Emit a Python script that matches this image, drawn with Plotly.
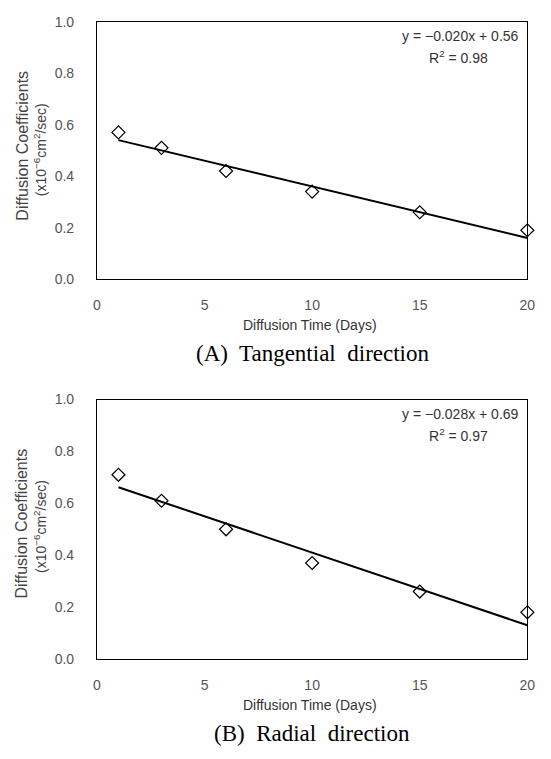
import plotly.graph_objects as go

# Data
days = [1, 3, 6, 10, 15, 20]
tangential = [0.57, 0.51, 0.42, 0.34, 0.26, 0.19]
radial = [0.71, 0.61, 0.50, 0.37, 0.26, 0.18]
tan_slope, tan_intercept, tan_r2 = -0.020, 0.56, 0.98
rad_slope, rad_intercept, rad_r2 = -0.028, 0.69, 0.97
fit_x = [1, 20]
x_ticks = [0, 5, 10, 15, 20]
y_ticks = [0.0, 0.2, 0.4, 0.6, 0.8, 1.0]

W, H = 551, 759
fig = go.Figure()

def add_panel(vals, slope, intercept, xa, ya):
    fig.add_trace(go.Scatter(
        x=fit_x, y=[slope * x + intercept for x in fit_x], mode="lines",
        line=dict(color="black", width=2), xaxis=xa, yaxis=ya,
        showlegend=False, hoverinfo="skip"))
    fig.add_trace(go.Scatter(
        x=days, y=vals, mode="markers",
        marker=dict(symbol="diamond-open", size=10, color="black",
                    line=dict(width=1.2, color="black")),
        xaxis=xa, yaxis=ya, showlegend=False, cliponaxis=False))

add_panel(tangential, tan_slope, tan_intercept, "x", "y")
add_panel(radial, rad_slope, rad_intercept, "x2", "y2")

xdom = [95 / W, 535 / W]
y1dom = [(H - 277) / H, (H - 14) / H]
y2dom = [(H - 665) / H, (H - 400) / H]

sans = "Liberation Sans, Arial, sans-serif"
serif = "Liberation Serif, Times New Roman, serif"
tickfont = dict(family=sans, size=14, color="#555")
axis_common = dict(showline=True, mirror=True, linecolor="black", linewidth=1,
                   showgrid=False, zeroline=False, ticks="", tickfont=tickfont)

fig.update_layout(
    width=W, height=H, margin=dict(l=0, r=0, t=0, b=0),
    plot_bgcolor="white", paper_bgcolor="white",
    xaxis=dict(domain=xdom, anchor="y", range=[0, 20], tickvals=x_ticks,
               ticklabelstandoff=13, **axis_common),
    yaxis=dict(domain=y1dom, anchor="x", range=[0, 1], tickvals=y_ticks,
               tickformat=".1f", ticklabelstandoff=19, **axis_common),
    xaxis2=dict(domain=xdom, anchor="y2", range=[0, 20], tickvals=x_ticks,
                ticklabelstandoff=13, **axis_common),
    yaxis2=dict(domain=y2dom, anchor="x2", range=[0, 1], tickvals=y_ticks,
                tickformat=".1f", ticklabelstandoff=19, **axis_common),
)

anns = []

def panel_text(ytop, ybot, t1y, t2y, eq, r2, caption):
    anns.append(dict(text="Diffusion Coefficients", x=18 / W, y=1 - t1y / H,
                     xref="paper", yref="paper", textangle=-90, showarrow=False,
                     font=dict(family=sans, size=16, color="#444"),
                     xanchor="center", yanchor="middle"))
    anns.append(dict(text="(x10<sup>−6</sup>cm<sup>2</sup>/sec)", x=37 / W, y=1 - t2y / H,
                     xref="paper", yref="paper", textangle=-90, showarrow=False,
                     font=dict(family=sans, size=14, color="#444"),
                     xanchor="center", yanchor="middle"))
    anns.append(dict(text=eq, x=529 / W, y=1 - (ytop + 15) / H, xref="paper", yref="paper",
                     showarrow=False, xanchor="right", yanchor="middle",
                     font=dict(family=sans, size=14, color="#333")))
    anns.append(dict(text=r2, x=465 / W, y=1 - (ytop + 36) / H, xref="paper", yref="paper",
                     showarrow=False, xanchor="center", yanchor="middle",
                     font=dict(family=sans, size=14, color="#333")))
    anns.append(dict(text="Diffusion Time (Days)", x=313 / W, y=1 - (ybot + 47) / H,
                     xref="paper", yref="paper", showarrow=False,
                     xanchor="center", yanchor="middle",
                     font=dict(family=sans, size=14, color="#333")))
    anns.append(dict(text=caption, x=315 / W, y=1 - (ybot + 76) / H,
                     xref="paper", yref="paper", showarrow=False,
                     xanchor="center", yanchor="middle",
                     font=dict(family=serif, size=23, color="black")))

panel_text(14, 277, 141, 145, f"y = −{abs(tan_slope):.3f}x + {tan_intercept:.2f}",
           f"R<sup>2</sup> = {tan_r2:.2f}", "(A)  Tangential  direction")
panel_text(400, 665, 527, 530, f"y = −{abs(rad_slope):.3f}x + {rad_intercept:.2f}",
           f"R<sup>2</sup> = {rad_r2:.2f}", "(B)  Radial  direction")

fig.update_layout(annotations=anns)
fig.write_html("out.html")
